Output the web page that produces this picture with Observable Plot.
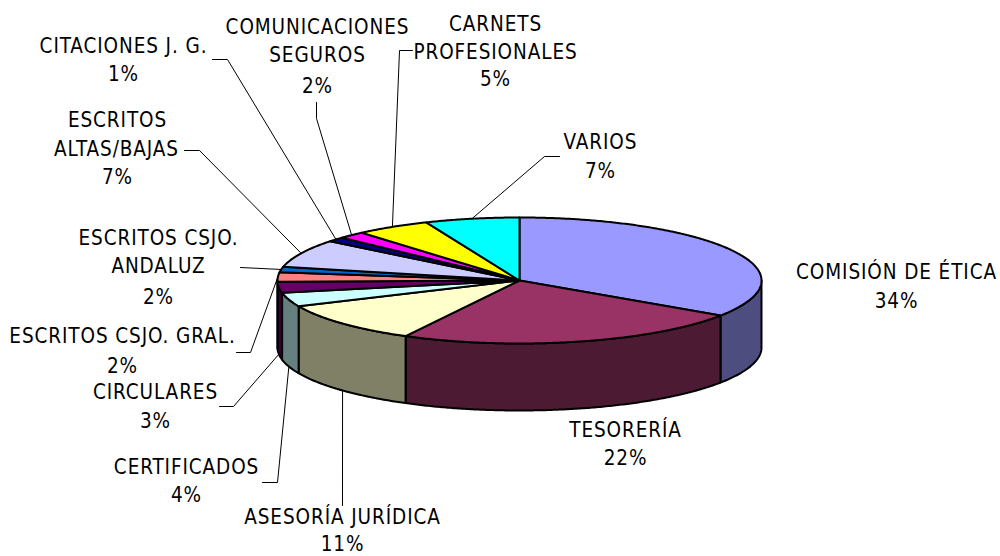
<!DOCTYPE html>
<html><head><meta charset="utf-8">
<style>html,body{margin:0;padding:0;background:#fff}svg{display:block}svg text{letter-spacing:.9px}</style>
<script src="https://cdn.jsdelivr.net/npm/d3@7"></script>
<script src="https://cdn.jsdelivr.net/npm/@observablehq/plot@0.6"></script>
</head><body><div id="chart"></div>
<script>
// Data, clockwise from twelve o'clock
const categories = ["COMISIÓN DE ÉTICA","TESORERÍA","ASESORÍA JURÍDICA","CERTIFICADOS","CIRCULARES","ESCRITOS CSJO. GRAL.","ESCRITOS CSJO. ANDALUZ","ESCRITOS ALTAS/BAJAS","CITACIONES J. G.","COMUNICACIONES SEGUROS","CARNETS PROFESIONALES","VARIOS"];
const percentLabels = [34,22,11,4,3,2,2,7,1,2,5,7];
// slice widths (share of the turn)
const shares = [34.4,23.4,10.5,3.6,2.8,2.4,1.4,7.2,1.2,1.8,5.0,6.3];
const colors = ["#9999FF","#993366","#FFFFCC","#CCFFFF","#660066","#FF8080","#0066CC","#CCCCFF","#000080","#FF00FF","#FFFF00","#00FFFF"];

// Layout
const W = 1000, H = 556;
const pie = {cx:519, cy:280, rx:242, ry:63, depth:67};
const FONT = "DejaVu Sans Condensed, DejaVu Sans, sans-serif", FS = 20.5;
const labelLines = [
  [[896,272,"COMISIÓN DE ÉTICA"],[896,301,"%"]],
  [[625,430,"TESORERÍA"],[625,458,"%"]],
  [[342,517,"ASESORÍA JURÍDICA"],[342,544,"%"]],
  [[186,467,"CERTIFICADOS"],[186,495,"%"]],
  [[155,392,"CIRCULARES"],[155,421,"%"]],
  [[122,336,"ESCRITOS CSJO. GRAL."],[122,366,"%"]],
  [[158,238,"ESCRITOS CSJO."],[158,266,"ANDALUZ"],[158,297,"%"]],
  [[117,120,"ESCRITOS"],[116,149,"ALTAS/BAJAS"],[117,177,"%"]],
  [[123,46,"CITACIONES J. G."],[123,74,"%"]],
  [[317,27,"COMUNICACIONES"],[317,55,"SEGUROS"],[317,86,"%"]],
  [[495,24,"CARNETS"],[495,52,"PROFESIONALES"],[495,79,"%"]],
  [[600,142,"VARIOS"],[600,171,"%"]]
];
const leaderElbows = [
  null, null,
  [[342,505]],
  [[262,482],[277,482]],
  [[219,406],[233,406]],
  [[236,352],[250,352]],
  [[240,267]],
  [[184,150],[199,150]],
  [[212,59],[227,59]],
  [[316,102],[316,118]],
  [[412,50],[399,50]],
  [[559,156],[544,156]]
];

// Geometry derived from the values
const total = d3.sum(shares);
const rad = d => d*Math.PI/180;
const at = (deg, dy=0) => [pie.cx + pie.rx*Math.sin(rad(deg)), pie.cy - pie.ry*Math.cos(rad(deg)) + dy];
let cum = 0;
const slices = shares.map((s,i)=>{const a0=cum/total*360; cum+=s; const a1=cum/total*360; return {i,a0,a1,mid:(a0+a1)/2};});
const arc = (a0,a1,dy=0)=>{const n=Math.max(2,Math.ceil(a1-a0)*2); return d3.range(n+1).map(k=>at(a0+(a1-a0)*k/n,dy));};
const half = c => {const r=d3.rgb(c); return d3.rgb(Math.round(r.r/2),Math.round(r.g/2),Math.round(r.b/2)).formatHex();};

const walls=[], faces=[];
for (const s of slices){
  const a0=Math.max(s.a0,90), a1=Math.min(s.a1,270);
  if (a1>a0){
    const pts=[...arc(a0,a1), ...arc(a0,a1,pie.depth).reverse()]; pts.push(pts[0]);
    pts.forEach(p=>walls.push({x:p[0],y:p[1],id:s.i,fill:half(colors[s.i])}));
  }
  const pts=[[pie.cx,pie.cy],...arc(s.a0,s.a1),[pie.cx,pie.cy]];
  pts.forEach(p=>faces.push({x:p[0],y:p[1],id:s.i,fill:colors[s.i]}));
}
const leaders=[];
slices.forEach(s=>{
  const e=leaderElbows[s.i]; if(!e) return;
  const lower=s.mid>90&&s.mid<270;
  const end=at(s.mid,lower?pie.depth:0);
  [...e,end].forEach(p=>leaders.push({x:p[0],y:p[1],id:s.i}));
});
const texts=labelLines.flatMap((ls,i)=>ls.map(([x,y,t])=>({x,y,text:t==="%"?percentLabels[i]+"%":t})));

const chart = Plot.plot({
  width:W, height:H, margin:0,
  x:{domain:[0,W],range:[0,W],axis:null},
  y:{domain:[0,H],range:[0,H],axis:null},
  color:{type:"identity"},
  style:{background:"#fff"},
  marks:[
    Plot.line(walls,{x:"x",y:"y",z:"id",fill:"fill",stroke:"#000",strokeWidth:2,strokeLinejoin:"round"}),
    Plot.line(faces,{x:"x",y:"y",z:"id",fill:"fill",stroke:"#000",strokeWidth:2,strokeLinejoin:"round"}),
    Plot.line(leaders,{x:"x",y:"y",z:"id",stroke:"#000",strokeWidth:1}),
    Plot.text(texts,{x:"x",y:"y",text:"text",fontSize:FS,fontFamily:FONT,fill:"#000",textAnchor:"middle",lineAnchor:"middle"})
  ]
});
document.getElementById("chart").append(chart);
</script></body></html>
